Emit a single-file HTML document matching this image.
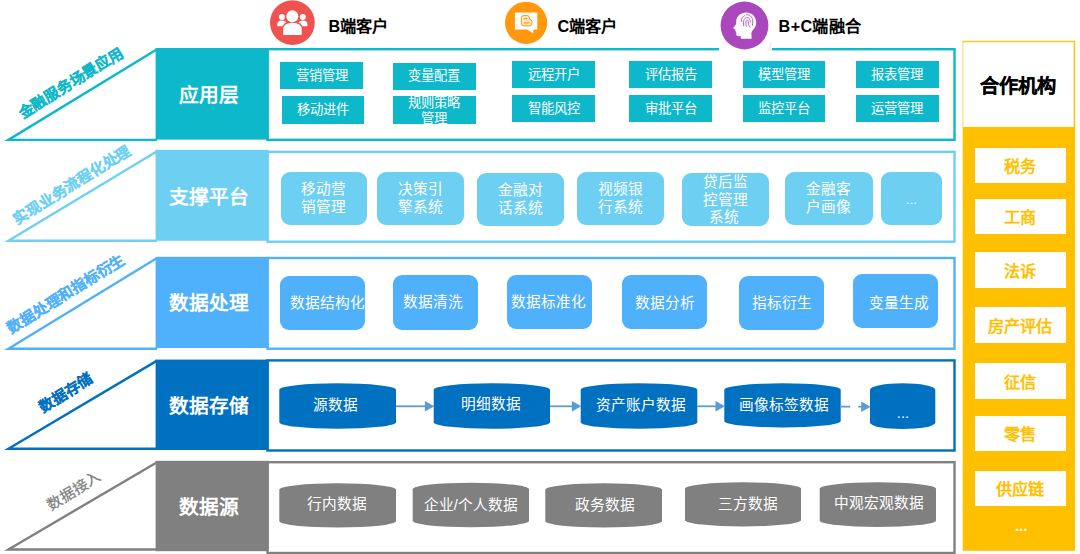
<!DOCTYPE html>
<html lang="zh-CN"><head><meta charset="utf-8"><title>架构图</title>
<style>
html,body{margin:0;padding:0;background:#fff}
body{width:1080px;height:554px;position:relative;overflow:hidden;font-family:"Liberation Sans",sans-serif}
svg.bg{position:absolute;left:0;top:0}
div{position:absolute;box-sizing:border-box;white-space:nowrap}
.lab{width:120px;height:30px;line-height:30px;color:#fff;font-weight:bold;font-size:19.7px;text-align:center}
.side{width:200px;height:24px;line-height:24px;text-align:center;font-weight:bold;font-size:14.85px;-webkit-text-stroke:0.15px;transform:rotate(-31.8deg)}
.bx{display:flex;align-items:center;justify-content:center;text-align:center;color:#fff}
.bx span{display:block}
.b1{background:#0db8ca;font-size:13.33px;line-height:16px}
.b2{background:#6dd0f3;font-size:14.67px;line-height:17.4px;border-radius:9px}
.b3{background:#4fb0fb;font-size:14.67px;line-height:18px;border-radius:9px}
.c4{font-size:14.67px;line-height:18px}
.b2.dots{font-size:13px}.c4.dots{font-size:14.67px}
.ph{height:24px;line-height:24px;color:#000;font-weight:bold;font-size:19.2px;-webkit-text-stroke:0.2px;text-align:center}
.pb{background:#fff;color:#ffc000;font-weight:bold;font-size:16.2px;line-height:20px}
.pd{color:#fff;font-size:15px;font-weight:bold;line-height:20px;height:20px;text-align:center}
.hd{color:#000;font-weight:bold;font-size:16.2px;line-height:24px}
</style></head>
<body>
<svg class="bg" width="1080" height="554" viewBox="0 0 1080 554">
<rect x="267.50" y="49.20" width="687.00" height="90.60" fill="#fff" stroke="#0db8ca" stroke-width="2.4"/>
<path d="M157.1 49.20 L8.4 139.90 L157.1 139.90" fill="none" stroke="#0db8ca" stroke-width="2.4" stroke-miterlimit="10"/>
<rect x="155.6" y="48.0" width="113.10" height="91.60" fill="#0db8ca"/>
<rect x="267.50" y="151.80" width="687.00" height="89.90" fill="#fff" stroke="#6dd0f3" stroke-width="2.4"/>
<path d="M157.1 151.20 L8.4 240.80 L157.1 240.80" fill="none" stroke="#6dd0f3" stroke-width="2.4" stroke-miterlimit="10"/>
<rect x="155.6" y="149.8" width="113.10" height="91.00" fill="#6dd0f3"/>
<rect x="267.50" y="258.00" width="687.00" height="90.70" fill="#fff" stroke="#4fb0fb" stroke-width="2.4"/>
<path d="M157.1 258.00 L8.4 348.70 L157.1 348.70" fill="none" stroke="#4fb0fb" stroke-width="2.4" stroke-miterlimit="10"/>
<rect x="155.6" y="256.8" width="113.10" height="91.20" fill="#4fb0fb"/>
<rect x="267.50" y="360.40" width="687.00" height="90.10" fill="#fff" stroke="#0070c0" stroke-width="2.4"/>
<path d="M157.1 360.60 L8.4 448.70 L157.1 448.70" fill="none" stroke="#0070c0" stroke-width="2.4" stroke-miterlimit="10"/>
<rect x="155.6" y="359.6" width="113.10" height="90.40" fill="#0070c0"/>
<rect x="267.50" y="462.20" width="687.00" height="90.80" fill="#fff" stroke="#808080" stroke-width="2.4"/>
<path d="M157.1 462.20 L8.4 549.50 L157.1 549.50" fill="none" stroke="#808080" stroke-width="2.4" stroke-miterlimit="10"/>
<rect x="155.6" y="460.8" width="113.10" height="90.40" fill="#808080"/>
<path d="M279.3 389.8 A58.349999999999994 6.5 0 0 1 396 389.8 L396 422.2 A58.349999999999994 6.5 0 0 1 279.3 422.2 Z" fill="#0070c0"/>
<path d="M433.7 389.8 A58.150000000000006 6.5 0 0 1 550 389.8 L550 422.2 A58.150000000000006 6.5 0 0 1 433.7 422.2 Z" fill="#0070c0"/>
<path d="M580.7 389.8 A58.299999999999955 6.5 0 0 1 697.3 389.8 L697.3 422.2 A58.299999999999955 6.5 0 0 1 580.7 422.2 Z" fill="#0070c0"/>
<path d="M724.3 389.8 A58.200000000000045 6.5 0 0 1 840.7 389.8 L840.7 421.0 A58.200000000000045 6.5 0 0 1 724.3 421.0 Z" fill="#0070c0"/>
<path d="M870 389.8 A32.64999999999998 6.5 0 0 1 935.3 389.8 L935.3 422.6 A32.64999999999998 6.5 0 0 1 870 422.6 Z" fill="#0070c0"/>
<path d="M396 406.3 L425.4 406.3" stroke="#5b9bd5" stroke-width="1.8" fill="none"/><path d="M434.4 406.3 L424.9 401.1 L424.9 411.5 Z" fill="#5b9bd5"/>
<path d="M550 406.3 L572.4 406.3" stroke="#5b9bd5" stroke-width="1.8" fill="none"/><path d="M581.4 406.3 L571.9 401.1 L571.9 411.5 Z" fill="#5b9bd5"/>
<path d="M697.3 406.3 L716 406.3" stroke="#5b9bd5" stroke-width="1.8" fill="none"/><path d="M725 406.3 L715.5 401.1 L715.5 411.5 Z" fill="#5b9bd5"/>
<path d="M840.7 406.7 L861.7 406.7" stroke="#5b9bd5" stroke-width="1.8" fill="none" stroke-dasharray="9.5 8"/><path d="M870.7 406.7 L861.2 401.5 L861.2 411.9 Z" fill="#5b9bd5"/>
<path d="M279.3 489.8 A58.349999999999994 6.5 0 0 1 396 489.8 L396 521.1 A58.349999999999994 6.5 0 0 1 279.3 521.1 Z" fill="#808080"/>
<path d="M412.7 489.2 A58.150000000000006 6.5 0 0 1 529 489.2 L529 520.8 A58.150000000000006 6.5 0 0 1 412.7 520.8 Z" fill="#808080"/>
<path d="M545.3 489.8 A58.35000000000002 6.5 0 0 1 662 489.8 L662 521.1 A58.35000000000002 6.5 0 0 1 545.3 521.1 Z" fill="#808080"/>
<path d="M685 488.8 A58.0 6.5 0 0 1 801 488.8 L801 520.0 A58.0 6.5 0 0 1 685 520.0 Z" fill="#808080"/>
<path d="M819.7 488.8 A58.14999999999998 6.5 0 0 1 936 488.8 L936 520.5 A58.14999999999998 6.5 0 0 1 819.7 520.5 Z" fill="#808080"/>
<rect x="962.7" y="126.4" width="112.4" height="424.4" fill="#ffc000"/>
<rect x="962.4" y="40.8" width="112.7" height="86" fill="#fff"/>
<path d="M962.4 41.5 H1075.1" stroke="#ffc81f" stroke-width="1.4" fill="none"/>
<path d="M1074.4 40.8 V127" stroke="#ffc000" stroke-width="1.4" fill="none"/>
<path d="M962.9 40.8 V127" stroke="#ffd657" stroke-width="1" fill="none"/>
<circle cx="292.4" cy="22.6" r="22.4" fill="#ef5350"/>
<g fill="#fff"><circle cx="281.9" cy="17" r="3"/><circle cx="302.8" cy="17" r="3"/><path d="M277.3 26.2 L277.3 24.2 Q277.3 20.4 281.9 20.4 Q286.5 20.4 286.5 24.2 L286.5 26.2 Z"/><path d="M298.2 26.2 L298.2 24.2 Q298.2 20.4 302.8 20.4 Q307.4 20.4 307.4 24.2 L307.4 26.2 Z"/></g>
<circle cx="292.35" cy="16.2" r="7" fill="#ef5350"/>
<path d="M282 36 L282 29 Q282 21.6 292.4 21.6 Q302.8 21.6 302.8 29 L302.8 36 Z" fill="#ef5350"/>
<g fill="#fff"><circle cx="292.35" cy="16.2" r="6"/><path d="M283.2 34.9 L283.2 29.5 Q283.2 22.8 292.4 22.8 Q301.7 22.8 301.7 29.5 L301.7 34.9 Z"/></g>
<circle cx="526.1" cy="22.8" r="21.1" fill="#ff980c"/>
<path d="M514.9 12.6 H537.3 V29.5 H533.3 V33.3 L527 29.5 H514.9 Z" fill="#fff"/>
<path d="M521.3 18.3 Q521.3 15.6 524 15.6 H527.2 Q529.6 15.6 529.6 18 V19.2 Q531.8 19.4 531.8 21.6 V23.2 Q531.8 25.9 529.1 25.9 H524 Q521.3 25.9 521.3 23.2 Z" fill="#ffe9cc" stroke="#ff980c" stroke-width="1"/>
<path d="M524.2 18.6 H526.8 M524.2 22.8 H528.8" stroke="#ff980c" stroke-width="1.3" stroke-linecap="round" fill="none"/>
<rect x="719.1" y="0" width="52.8" height="51.5" fill="#fff"/>
<path d="M766.5 51 L771.5 40.5 L771.5 51 Z" fill="#f1f1f1"/>
<circle cx="744.5" cy="25.5" r="23.9" fill="#ab47bc"/>
<path d="M746.2 12.4 C740.5 12.4 736.3 16.3 736.2 21.6 C736.2 22.8 736.3 23.6 735.9 24.4 L733.4 27.6 C733 28.2 733.3 28.7 734 28.9 L735.3 29.3 L735.2 30.6 L735.9 31.2 L735.5 32 L736.3 32.7 L736.3 34.6 C736.4 35.6 737.1 36.2 738.2 36.2 L740.6 36.1 L740.9 38.7 L751.6 38.7 L751.4 33.6 C751.5 31.8 752.4 30.6 753.6 29.2 C755.3 27.2 756.2 24.9 756.2 22.2 C756.2 16.6 751.9 12.4 746.2 12.4 Z" fill="#fff"/>
<g fill="none" stroke="#ab47bc" stroke-width="0.9" stroke-linecap="round"><path d="M741.3 21.5 C741 18.5 742.6 16.4 744.8 15.6"/><path d="M743.6 25.6 C742.8 21.4 744 18.3 746.8 17.6 C749.2 17.2 750.3 19.6 750.4 22"/><path d="M746.4 14.6 C749.6 14.4 752.6 17 752.8 21 C752.9 23 752.7 24.4 752.3 25.6"/><path d="M746.2 26.2 C745.4 23 745.8 20.6 747.2 20.2 C748.6 20.2 748.2 22.6 748.5 24.4 C748.7 25.6 749.3 26.6 750.2 27.2"/></g>
</svg>
<div class="lab" style="left:149.0px;top:80.0px">应用层</div>
<div class="side" style="left:-29.1px;top:71.0px;color:#0db8ca">金融服务场景应用</div>
<div class="lab" style="left:148.8px;top:181.8px">支撑平台</div>
<div class="side" style="left:-28.3px;top:172.9px;color:#6dd0f3">实现业务流程化处理</div>
<div class="lab" style="left:149.4px;top:287.5px">数据处理</div>
<div class="side" style="left:-33.6px;top:282.2px;color:#4fb0fb">数据处理和指标衍生</div>
<div class="lab" style="left:149.2px;top:391.0px">数据存储</div>
<div class="side" style="left:-33.8px;top:381.2px;color:#0070c0">数据存储</div>
<div class="lab" style="left:149.0px;top:492.0px">数据源</div>
<div class="side" style="left:-26.0px;top:479.0px;color:#808080;font-weight:normal;-webkit-text-stroke:0.25px">数据接入</div>
<div class="bx b1" style="left:280.2px;top:62.1px;width:83.1px;height:26.9px"><span>营销管理</span></div>
<div class="bx b1" style="left:281.8px;top:95.7px;width:82.3px;height:28.2px"><span>移动进件</span></div>
<div class="bx b1" style="left:392.6px;top:62.7px;width:83.1px;height:27.1px"><span>变量配置</span></div>
<div class="bx b1" style="left:392.6px;top:95.7px;width:83.1px;height:28.2px"><span style="transform:translate(0px,1.2px)">规则策略<br>管理</span></div>
<div class="bx b1" style="left:512.0px;top:61.3px;width:83.0px;height:27.0px"><span>远程开户</span></div>
<div class="bx b1" style="left:512.0px;top:94.8px;width:83.0px;height:27.5px"><span>智能风控</span></div>
<div class="bx b1" style="left:629.0px;top:61.3px;width:83.0px;height:27.0px"><span>评估报告</span></div>
<div class="bx b1" style="left:629.0px;top:95.0px;width:83.0px;height:27.3px"><span>审批平台</span></div>
<div class="bx b1" style="left:742.7px;top:61.3px;width:82.6px;height:27.0px"><span>模型管理</span></div>
<div class="bx b1" style="left:742.7px;top:95.0px;width:82.6px;height:27.0px"><span>监控平台</span></div>
<div class="bx b1" style="left:855.7px;top:61.3px;width:83.0px;height:27.0px"><span>报表管理</span></div>
<div class="bx b1" style="left:855.7px;top:95.0px;width:83.0px;height:27.0px"><span>运营管理</span></div>
<div class="bx b2" style="left:280.7px;top:172.2px;width:86.0px;height:52.8px"><span>移动营<br>销管理</span></div>
<div class="bx b2" style="left:376.7px;top:172.2px;width:87.3px;height:52.8px"><span>决策引<br>擎系统</span></div>
<div class="bx b2" style="left:476.7px;top:173.3px;width:87.3px;height:52.7px"><span>金融对<br>话系统</span></div>
<div class="bx b2" style="left:577.3px;top:172.2px;width:86.7px;height:52.8px"><span>视频银<br>行系统</span></div>
<div class="bx b2" style="left:682.3px;top:173.0px;width:86.7px;height:53.0px"><span style="transform:translate(0px,1.2px)">贷后监<br>控管理<br>系统&thinsp;</span></div>
<div class="bx b2" style="left:785.3px;top:172.2px;width:87.4px;height:52.8px"><span>金融客<br>户画像</span></div>
<div class="bx b2 dots" style="left:881.3px;top:172.2px;width:60.4px;height:52.8px"><span style="transform:translate(0px,1px)">...</span></div>
<div class="bx b3" style="left:280.1px;top:276.3px;width:85.3px;height:53.4px"><span style="transform:translate(4.6px,0px)">数据结构化</span></div>
<div class="bx b3" style="left:393.0px;top:275.2px;width:85.0px;height:54.5px"><span style="transform:translate(-3px,0px)">数据清洗</span></div>
<div class="bx b3" style="left:506.7px;top:274.7px;width:85.3px;height:54.0px"><span style="transform:translate(-0.5px,0px)">数据标准化</span></div>
<div class="bx b3" style="left:622.0px;top:274.7px;width:84.7px;height:54.0px"><span style="transform:translate(0.7px,0.8px)">数据分析</span></div>
<div class="bx b3" style="left:738.7px;top:276.3px;width:85.0px;height:53.4px"><span style="transform:translate(1px,0px)">指标衍生</span></div>
<div class="bx b3" style="left:852.7px;top:274.3px;width:85.3px;height:53.4px"><span style="transform:translate(3.5px,2.3px)">变量生成</span></div>
<div class="bx c4" style="left:279.3px;top:383.3px;width:116.7px;height:45.4px"><span style="transform:translate(-1.7px,-0.8px)">源数据</span></div>
<div class="bx c4" style="left:433.7px;top:383.3px;width:116.3px;height:45.4px"><span style="transform:translate(-0.7px,-1.7px)">明细数据</span></div>
<div class="bx c4" style="left:580.7px;top:383.3px;width:116.6px;height:45.4px"><span style="transform:translate(1.7px,-1px)">资产账户数据</span></div>
<div class="bx c4" style="left:724.3px;top:383.3px;width:116.4px;height:44.2px"><span style="transform:translate(2px,0px)">画像标签数据</span></div>
<div class="bx c4 dots" style="left:870.0px;top:383.3px;width:65.3px;height:45.8px"><span style="transform:translate(0.3px,6.6px)">...</span></div>
<div class="bx c4" style="left:279.3px;top:483.3px;width:116.7px;height:44.3px"><span style="transform:translate(-0.7px,-0.7px)">行内数据</span></div>
<div class="bx c4" style="left:412.7px;top:482.7px;width:116.3px;height:44.6px"><span style="transform:translate(0px,-0.5px)">企业/个人数据</span></div>
<div class="bx c4" style="left:545.3px;top:483.3px;width:116.7px;height:44.3px"><span style="transform:translate(1.7px,-0.5px)">政务数据</span></div>
<div class="bx c4" style="left:685.0px;top:482.3px;width:116.0px;height:44.2px"><span style="transform:translate(4.8px,-0.5px)">三方数据</span></div>
<div class="bx c4" style="left:819.7px;top:482.3px;width:116.3px;height:44.7px"><span style="transform:translate(1.2px,-1.7px)">中观宏观数据</span></div>
<div class="ph" style="left:961.9px;top:74.6px;width:113px">合作机构</div>
<div class="bx pb" style="left:974.8px;top:147.9px;width:91.0px;height:34.8px"><span style="transform:translate(0px,1.3px)">税务</span></div>
<div class="bx pb" style="left:974.8px;top:198.6px;width:91.0px;height:35.5px"><span style="transform:translate(0px,1.3px)">工商</span></div>
<div class="bx pb" style="left:974.8px;top:251.9px;width:91.0px;height:35.8px"><span style="transform:translate(0px,1.3px)">法诉</span></div>
<div class="bx pb" style="left:974.8px;top:307.1px;width:91.0px;height:35.8px"><span style="transform:translate(0px,1.3px)">房产评估</span></div>
<div class="bx pb" style="left:974.8px;top:362.9px;width:91.0px;height:35.7px"><span style="transform:translate(0px,1.3px)">征信</span></div>
<div class="bx pb" style="left:974.8px;top:415.9px;width:91.0px;height:35.0px"><span style="transform:translate(0px,1.3px)">零售</span></div>
<div class="bx pb" style="left:974.8px;top:470.8px;width:91.0px;height:35.0px"><span style="transform:translate(0px,1.3px)">供应链</span></div>
<div class="pd" style="left:975.7px;top:516px;width:91px">...</div>
<div class="hd" style="left:328.4px;top:13.8px">B端客户</div>
<div class="hd" style="left:557.4px;top:13.8px">C端客户</div>
<div class="hd" style="left:778.6px;top:13.8px;letter-spacing:0.35px">B+C端融合</div>
</body></html>
